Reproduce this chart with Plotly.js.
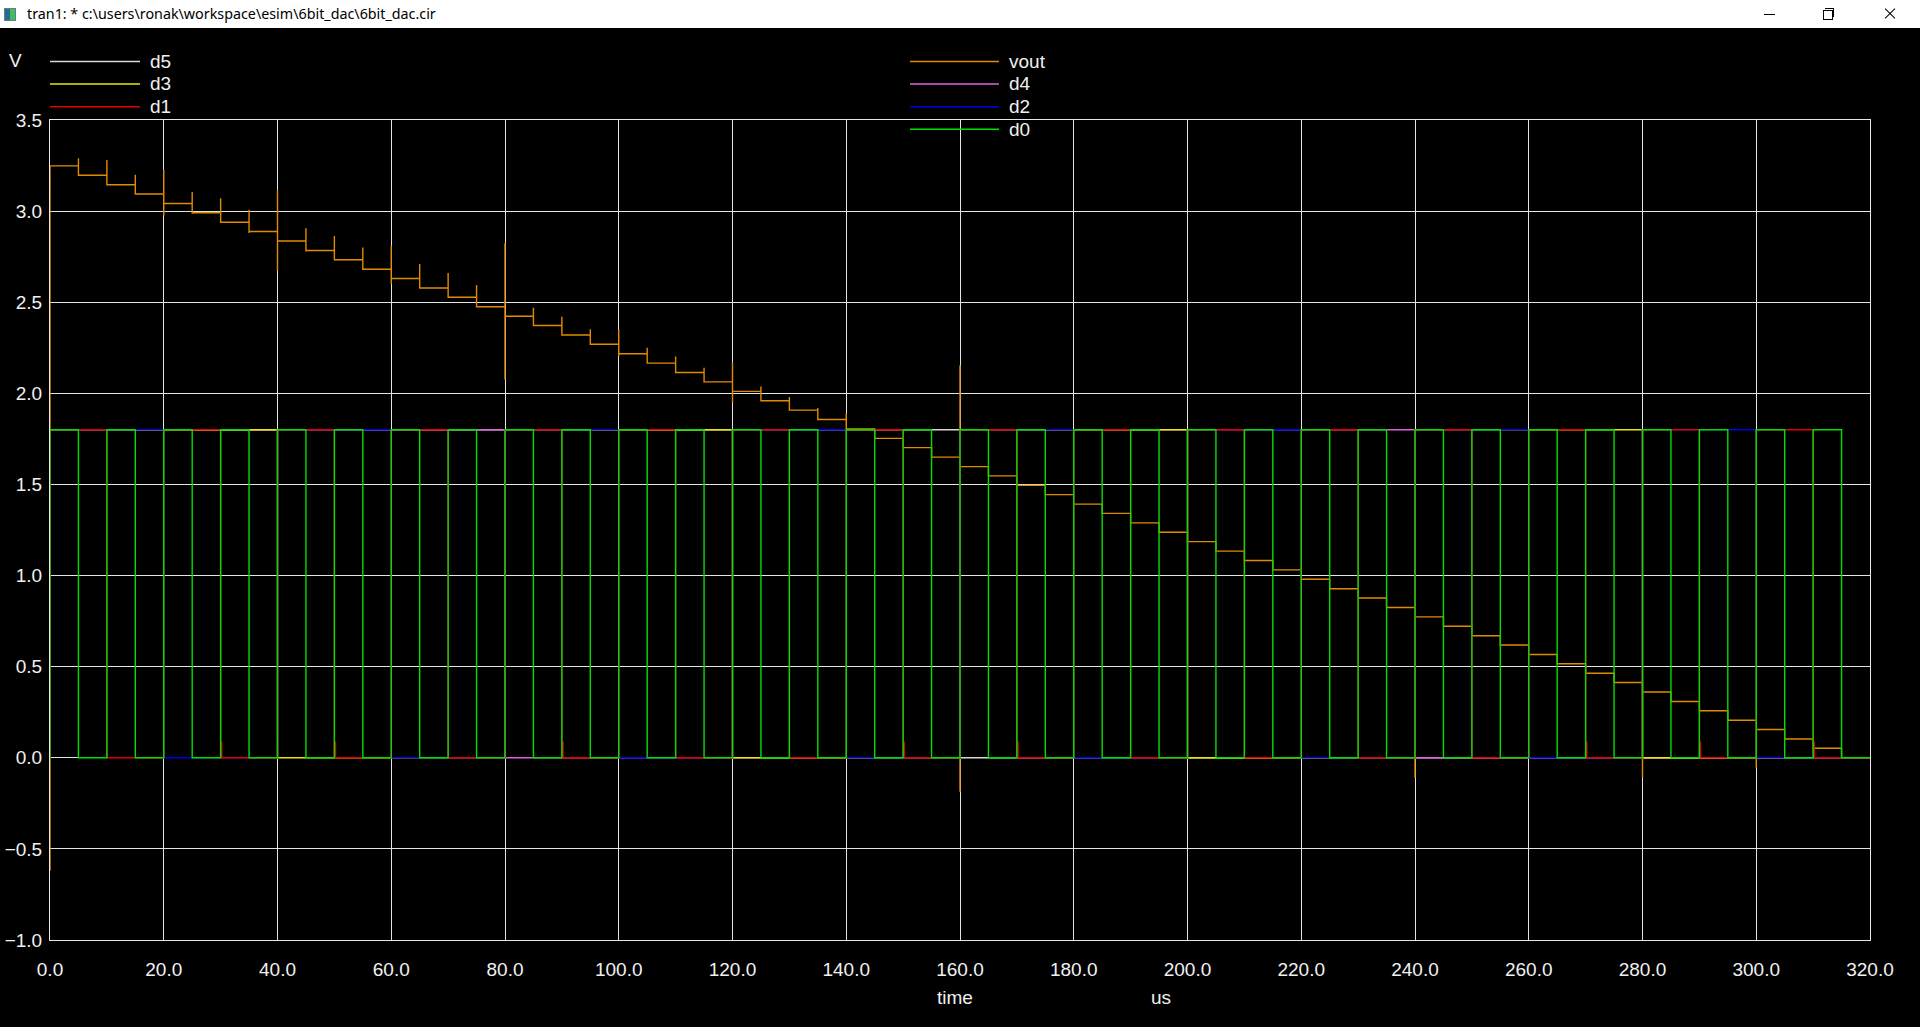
<!DOCTYPE html>
<html>
<head>
<meta charset="utf-8">
<script src="https://cdn.plot.ly/plotly-3.0.1.min.js"></script>
<style>
  html, body { margin: 0; padding: 0; background: #000; overflow: hidden; }
  #chart { position: absolute; left: 0; top: 0; width: 1920px; height: 1027px; }
  #titlebar { position: absolute; left: 0; top: 0; width: 1920px; height: 28px; background: #ffffff; z-index: 5;
              font-family: "Noto Sans", "Liberation Sans", sans-serif; font-size: 14.3px; color: #000; }
  #titletext { position: absolute; left: 27px; top: 4px; white-space: pre; }
  #icon { position: absolute; left: 4px; top: 8px; width: 10px; height: 11px; border: 1px solid #6a7a8a; background: linear-gradient(90deg, #2a6a8a 0 55%, #3fbf5f 55% 100%); }
  .btn { position: absolute; }
  #minb { left: 1764px; top: 14px; width: 11px; height: 1px; background: #000; }
  #maxb1 { left: 1823px; top: 10px; width: 8px; height: 8px; border: 1px solid #000; background: #fff; }
  #maxb2 { left: 1825px; top: 8px; width: 8px; height: 8px; border-top: 1px solid #000; border-right: 1px solid #000; }
  .xl { position: absolute; left: 1883px; top: 13px; width: 14px; height: 1px; background: #000; }
</style>
</head>
<body>
<div id="chart"></div>
<div id="titlebar">
  <div id="icon"></div>
  <div id="titletext">tran1: * c:\users\ronak\workspace\esim\6bit_dac\6bit_dac.cir</div>
  <div class="btn" id="minb"></div>
  <div class="btn" id="maxb2"></div>
  <div class="btn" id="maxb1"></div>
  <div class="btn xl" style="transform: rotate(45deg);"></div>
  <div class="btn xl" style="transform: rotate(-45deg);"></div>
</div>
<script>
// ---------------- DATA ----------------
// start time of each 5 us step (us)
const stepTimes = [0,5,10,15,20,25,30,35,40,45,50,55,60,65,70,75,80,85,90,95,100,105,110,115,120,125,130,135,140,145,150,155,
                   160,165,170,175,180,185,190,195,200,205,210,215,220,225,230,235,240,245,250,255,260,265,270,275,280,285,290,295,300,305,310,315];
const stepLength = 5;
// digital input code d5..d0 in each step
const codes = [63,62,61,60,59,58,57,56,55,54,53,52,51,50,49,48,47,46,45,44,43,42,41,40,39,38,37,36,35,34,33,32,
               31,30,29,28,27,26,25,24,23,22,21,20,19,18,17,16,15,14,13,12,11,10,9,8,7,6,5,4,3,2,1,0];
const logicHigh = 1.8;   // V
// settled vout level in each step (V)
const voutLevels = [3.248,3.197,3.145,3.094,3.042,2.991,2.939,2.888,2.836,2.784,2.733,2.681,2.630,2.578,2.527,2.475,
                    2.423,2.372,2.320,2.269,2.217,2.166,2.114,2.063,2.011,1.959,1.908,1.856,1.805,1.753,1.702,1.650,
                    1.598,1.547,1.495,1.444,1.392,1.341,1.289,1.238,1.186,1.134,1.083,1.031,0.980,0.928,0.877,0.825,
                    0.773,0.722,0.670,0.619,0.567,0.516,0.464,0.413,0.361,0.309,0.258,0.206,0.155,0.103,0.052,0.000];
const voutStart = -0.62;
// switching glitches of vout at each step edge (V), null = none visible
const voutGlitchUp = [null,3.29,3.28,3.20,3.227,3.105,3.07,3.008,3.116,2.906,2.864,2.80,2.81,2.71,2.66,2.594,
                      2.823,2.469,2.42,2.352,2.349,2.25,2.202,2.14,2.171,2.038,1.98,1.92,1.89,null,null,null,
                      2.153,null,null,null,null,null,null,null,null,null,null,null,null,null,null,null,
                      null,null,null,null,null,null,null,null,null,null,null,null,null,null,null,null];
const voutGlitchDown = [null,null,null,null,2.975,2.985,null,2.88,2.674,2.778,null,null,2.60,null,null,null,
                        2.076,null,null,null,2.202,null,null,null,1.95,null,null,null,null,null,null,null,
                        -0.186,null,null,null,null,null,null,null,null,null,null,null,null,null,null,null,
                        -0.11,null,null,null,null,null,null,null,-0.107,null,null,null,-0.053,null,null,null];
// small d1 glitches at the bottom rail
const d1GlitchTimes = [30,50,90,150,170,270,290,310];
const d1GlitchHeight = 0.09;

const seriesNames  = ['vout','d5','d4','d3','d2','d1','d0'];
const seriesColors = ['#e08c00','#d8d8d8','#e060e0','#e8e800','#0000e0','#e00000','#00e000'];
const bitIndex     = [null,5,4,3,2,1,0];
const xTickVals = [0,20,40,60,80,100,120,140,160,180,200,220,240,260,280,300,320];
const yTickVals = [-1.0,-0.5,0.0,0.5,1.0,1.5,2.0,2.5,3.0,3.5];

// ---------------- BUILD TRACES ----------------
function buildVout() {
  const x = [0], y = [voutStart];
  for (let n = 0; n < stepTimes.length; n++) {
    const t = stepTimes[n];
    if (voutGlitchUp[n] !== null) { x.push(t); y.push(voutGlitchUp[n]); }
    if (voutGlitchDown[n] !== null) { x.push(t); y.push(voutGlitchDown[n]); }
    x.push(t); y.push(voutLevels[n]);
    x.push(t + stepLength); y.push(voutLevels[n]);
  }
  return {x, y};
}
function buildBit(k) {
  const x = [0], y = [0];
  for (let n = 0; n < stepTimes.length; n++) {
    const t = stepTimes[n];
    const v = ((codes[n] >> k) & 1) * logicHigh;
    x.push(t); y.push(v);
    if (k === 1 && d1GlitchTimes.indexOf(t) >= 0) {
      const tg = t + 0.2;
      x.push(tg, tg, tg); y.push(0, d1GlitchHeight, 0);
    }
    x.push(t + stepLength); y.push(v);
  }
  return {x, y};
}

const traces = seriesNames.map((name, i) => {
  const d = (i === 0) ? buildVout() : buildBit(bitIndex[i]);
  return { type: 'scatter', mode: 'lines', name: name, x: d.x, y: d.y,
           line: { color: seriesColors[i], width: 1.4, shape: 'linear' },
           hoverinfo: 'skip', showlegend: false };
});

// ---------------- LAYOUT ----------------
const L = 50, R = 50, T = 120, B = 87, W = 1920, H = 1027;
const PW = W - L - R, PH = H - T - B;
const px = p => (p - L) / PW;
const py = p => (H - B - p) / PH;
const font = { family: 'Liberation Sans, Arial, sans-serif', size: 19, color: '#f0f0f0' };

// legend placement: left column and right column
const legendLeft  = ['d5','d3','d1'];
const legendRight = ['vout','d4','d2','d0'];
const legendRowsY = [61.5, 84, 106.7, 129.3];

const shapes = [], annotations = [];
function addLegend(list, x0, x1, tx) {
  list.forEach((name, r) => {
    const c = seriesColors[seriesNames.indexOf(name)];
    shapes.push({ type: 'line', xref: 'paper', yref: 'paper', x0: px(x0), x1: px(x1), y0: py(legendRowsY[r]), y1: py(legendRowsY[r]),
                  line: { color: c, width: 1.4 } });
    annotations.push({ xref: 'paper', yref: 'paper', x: px(tx), y: py(legendRowsY[r]), xanchor: 'left', yanchor: 'middle',
                       text: name, showarrow: false, font: font });
  });
}
addLegend(legendLeft, 50, 140, 148);
addLegend(legendRight, 910, 999, 1007);

annotations.push({ xref: 'paper', yref: 'paper', x: px(15), y: py(61), xanchor: 'center', yanchor: 'middle', text: 'V', showarrow: false, font: font });
annotations.push({ xref: 'paper', yref: 'paper', x: px(955), y: py(997), xanchor: 'center', yanchor: 'middle', text: 'time', showarrow: false, font: font });
annotations.push({ xref: 'paper', yref: 'paper', x: px(1161), y: py(997), xanchor: 'center', yanchor: 'middle', text: 'us', showarrow: false, font: font });

const axisCommon = { showgrid: true, gridcolor: '#e4e4e4', gridwidth: 1, zeroline: false,
                     showline: true, linecolor: '#e8e8e8', linewidth: 1, mirror: true, ticks: '',
                     tickfont: font, tickformat: '.1f', fixedrange: true, layer: 'below traces' };

const layout = {
  width: W, height: H,
  margin: { l: L, r: R, t: T, b: B, pad: 0 },
  paper_bgcolor: '#000000', plot_bgcolor: '#000000',
  showlegend: false, hovermode: false,
  xaxis: Object.assign({}, axisCommon, { range: [0, 320], tickvals: xTickVals, ticklabelstandoff: 12 }),
  yaxis: Object.assign({}, axisCommon, { range: [-1, 3.5], tickvals: yTickVals, ticklabelstandoff: 3 }),
  shapes: shapes, annotations: annotations, font: font
};

Plotly.newPlot('chart', traces, layout, { displayModeBar: false, staticPlot: true });
</script>
</body>
</html>
